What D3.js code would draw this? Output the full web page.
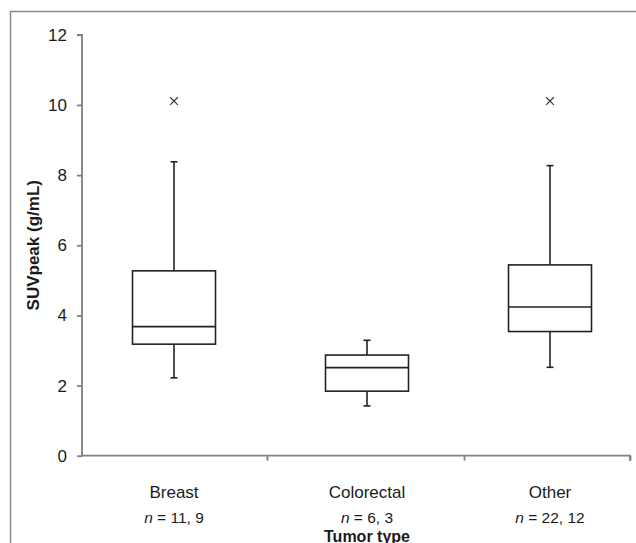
<!DOCTYPE html>
<html>
<head>
<meta charset="utf-8">
<script src="https://cdn.jsdelivr.net/npm/d3@7"></script>
<style>
  body { margin: 0; background: #fff; }
  text { font-family: "Liberation Sans", Arial, sans-serif; fill: #1a1a1a; }
</style>
</head>
<body>
<div class="chart"></div>
<script>
// data
let categories = ["Breast", "Colorectal", "Other"]
let nLabels = ["11, 9", "6, 3", "22, 12"]
let whiskerLow = [2.22, 1.42, 2.52]
let boxLow = [3.18, 1.84, 3.54]
let medians = [3.68, 2.51, 4.24]
let boxHigh = [5.27, 2.87, 5.44]
let whiskerHigh = [8.38, 3.29, 8.27]
let outliers = [[0, 10.11], [2, 10.11]]
let yTicks = [0, 2, 4, 6, 8, 10, 12]

let data = categories.map((c, i) => ({
    cat: c, n: nLabels[i],
    wlo: whiskerLow[i], q1: boxLow[i], med: medians[i], q3: boxHigh[i], whi: whiskerHigh[i]
}))

let svg = d3.select(".chart")
    .append("svg")
    .attr("width", 636)
    .attr("height", 543)

// frame
svg.append("path")
    .attr("d", "M10.5,543V11.5H636")
    .attr("fill", "none")
    .attr("stroke", "#888")
    .attr("stroke-width", 1.5)

//scales
let y = d3.scaleLinear()
    .domain([0, 12])
    .range([455.7, 34.8])

let xEdge = d3.scaleLinear()
    .domain([0, 1, 2, 3])
    .range([82, 267, 464, 630])

let x = d3.scaleOrdinal()
    .domain(categories)
    .range([174, 367, 550])

//Axis
let yAxis = d3.axisLeft(y).tickValues(yTicks).tickSize(5).tickPadding(10)
let gy = svg.append("g")
    .attr("transform", "translate(" + xEdge(0) + ",0)")
    .call(yAxis)
gy.selectAll("path, line").attr("stroke", "#808080").attr("stroke-width", 1.8)
gy.select(".domain").attr("d", "M-5," + y(12) + "H0V" + y(0))
gy.selectAll("text").attr("font-size", 17).attr("font-family", "Liberation Sans, Arial, sans-serif").attr("fill", "#1a1a1a")

let xAxis = d3.axisBottom(xEdge).tickValues([1, 2, 3]).tickSize(5).tickFormat("")
let gx = svg.append("g")
    .attr("transform", "translate(0," + y(0) + ")")
    .call(xAxis)
gx.selectAll("path, line").attr("stroke", "#808080").attr("stroke-width", 1.8)
gx.select(".domain").attr("d", "M" + xEdge(0) + ",0H" + xEdge(3) + "V5")

// category labels
svg.selectAll(".cat")
    .data(data)
    .enter().append("text")
    .attr("class", "cat")
    .attr("x", d => x(d.cat))
    .attr("y", 498)
    .attr("text-anchor", "middle")
    .attr("font-size", 17)
    .text(d => d.cat)

let nt = svg.selectAll(".nlab")
    .data(data)
    .enter().append("text")
    .attr("class", "nlab")
    .attr("x", d => x(d.cat))
    .attr("y", 523)
    .attr("text-anchor", "middle")
    .attr("font-size", 15.5)
nt.append("tspan").attr("font-style", "italic").text("n")
nt.append("tspan").text(d => " = " + d.n)

svg.append("text")
    .attr("x", x("Colorectal"))
    .attr("y", 541.5)
    .attr("text-anchor", "middle")
    .attr("font-size", 16)
    .attr("font-weight", "bold")
    .text("Tumor type")

svg.append("text")
    .attr("transform", "translate(39," + y(6) + ") rotate(-90)")
    .attr("text-anchor", "middle")
    .attr("font-size", 17)
    .attr("font-weight", "bold")
    .text("SUVpeak (g/mL)")

// boxes
let boxW = 83, capW = 7
let g = svg.append("g")
    .attr("stroke", "#222")
    .attr("stroke-width", 1.6)
    .attr("fill", "none")

let b = g.selectAll(".box")
    .data(data)
    .enter().append("g")
    .attr("class", "box")

b.append("line")
    .attr("x1", d => x(d.cat)).attr("x2", d => x(d.cat))
    .attr("y1", d => y(d.whi)).attr("y2", d => y(d.q3))
b.append("line")
    .attr("x1", d => x(d.cat)).attr("x2", d => x(d.cat))
    .attr("y1", d => y(d.q1)).attr("y2", d => y(d.wlo))
b.append("line")
    .attr("x1", d => x(d.cat) - capW / 2).attr("x2", d => x(d.cat) + capW / 2)
    .attr("y1", d => y(d.whi)).attr("y2", d => y(d.whi))
b.append("line")
    .attr("x1", d => x(d.cat) - capW / 2).attr("x2", d => x(d.cat) + capW / 2)
    .attr("y1", d => y(d.wlo)).attr("y2", d => y(d.wlo))
b.append("rect")
    .attr("x", d => x(d.cat) - boxW / 2)
    .attr("width", boxW)
    .attr("y", d => y(d.q3))
    .attr("height", d => y(d.q1) - y(d.q3))
    .attr("fill", "#fff")
b.append("line")
    .attr("x1", d => x(d.cat) - boxW / 2).attr("x2", d => x(d.cat) + boxW / 2)
    .attr("y1", d => y(d.med)).attr("y2", d => y(d.med))

// outliers
svg.selectAll(".out")
    .data(outliers)
    .enter().append("path")
    .attr("class", "out")
    .attr("transform", d => "translate(" + x(categories[d[0]]) + "," + y(d[1]) + ")")
    .attr("d", d3.symbol(d3.symbolX, 40))
    .attr("fill", "none")
    .attr("stroke", "#333")
    .attr("stroke-width", 1.1)
</script>
</body>
</html>
